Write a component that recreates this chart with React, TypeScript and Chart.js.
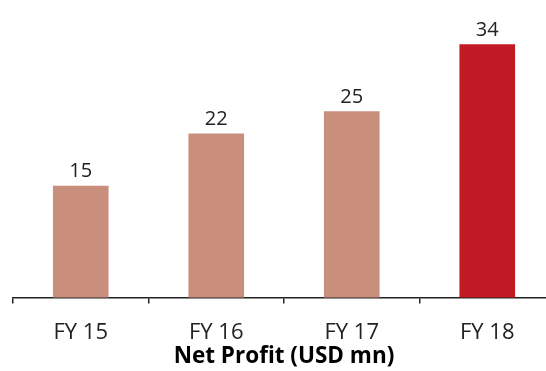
import React, { useEffect, useRef } from "react";
import { Chart, registerables } from "chart.js";

Chart.register(...registerables);

const categories = ["FY 15", "FY 16", "FY 17", "FY 18"];
const values = [15, 22, 25, 34];
const barColors = ["#C98F7C", "#C98F7C", "#C98F7C", "#C21A24"];
const axisTitle = "Net Profit (USD mn)";

const FONT = "'Open Sans', sans-serif";

const valueLabels = {
  id: "valueLabels",
  afterDatasetsDraw(chart: any) {
    const ctx = chart.ctx;
    const meta = chart.getDatasetMeta(0);
    ctx.save();
    ctx.font = `20px ${FONT}`;
    ctx.fillStyle = "#222";
    ctx.textAlign = "center";
    ctx.textBaseline = "alphabetic";
    meta.data.forEach((bar: any, i: number) => {
      ctx.fillText(String(values[i]), bar.x, bar.y - 9);
    });
    ctx.restore();
  },
};

export default function App() {
  const ref = useRef<HTMLCanvasElement>(null);
  useEffect(() => {
    const chart = new Chart(ref.current!, {
      type: "bar",
      data: {
        labels: categories,
        datasets: [
          {
            data: values,
            backgroundColor: barColors,
            barThickness: 55,
          },
        ],
      },
      options: {
        animation: false,
        responsive: false,
        maintainAspectRatio: false,
        layout: { padding: { left: 13, right: 5, top: 0, bottom: 1 } },
        plugins: { legend: { display: false }, tooltip: { enabled: false } },
        scales: {
          y: { display: false, min: 0, max: 40 },
          x: {
            offset: true,
            grid: {
              offset: true,
              drawOnChartArea: false,
              drawTicks: true,
              tickLength: 6,
              color: "#222",
              lineWidth: 1.5,
            },
            border: { display: true, color: "#222", width: 1.5 },
            ticks: {
              color: "#222",
              font: { family: FONT, size: 22 },
              padding: 16,
            },
            title: {
              display: true,
              text: axisTitle,
              color: "#000",
              font: { family: FONT, size: 22.5, weight: "bold" },
              padding: { top: -19, bottom: 0 },
            },
          },
        },
      },
      plugins: [valueLabels],
    });
    return () => chart.destroy();
  }, []);
  return (
    <div style={{ position: "fixed", left: 0, top: 0, width: 546, height: 371, overflow: "hidden", background: "#fff" }}>
      <canvas ref={ref} width={560} height={371} style={{ display: "block" }} />
    </div>
  );
}
